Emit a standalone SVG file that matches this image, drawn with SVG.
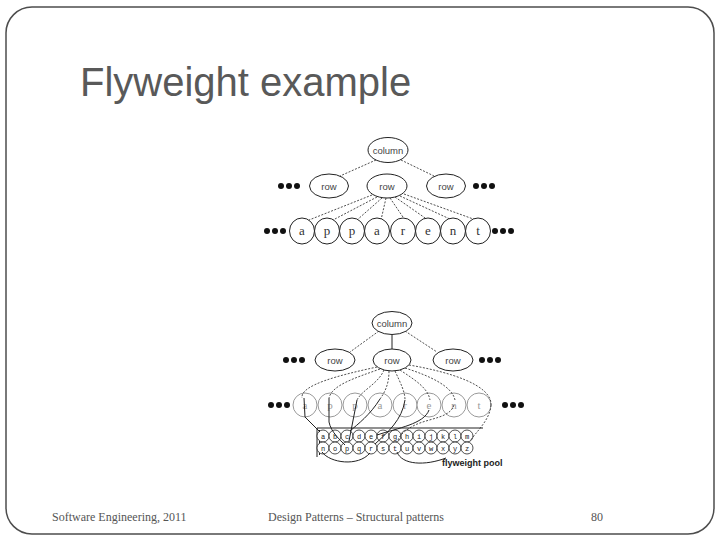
<svg xmlns="http://www.w3.org/2000/svg" width="720" height="540" viewBox="0 0 720 540">
<style>
.frame{fill:#ffffff;stroke:#4d4d4d;stroke-width:1.5}
.title{font-family:"Liberation Sans",Arial,sans-serif;font-size:40px;fill:#595959}
.foot{font-family:"Liberation Serif","Times New Roman",serif;font-size:12px;fill:#555555}
.node{fill:#ffffff;stroke:#222222;stroke-width:1}
.gnode{fill:#ffffff;stroke:#9a9a9a;stroke-width:1}
.lbl{font-family:"Liberation Sans",Arial,sans-serif;font-size:9.5px;fill:#444444;text-anchor:middle}
.let{font-family:"Liberation Serif","Times New Roman",serif;font-size:13px;fill:#333333;text-anchor:middle}
.glet{font-family:"Liberation Serif","Times New Roman",serif;font-size:11px;fill:#9a9a9a;text-anchor:middle}
.plet{font-family:"Liberation Mono","Courier New",monospace;font-size:7px;fill:#222222;text-anchor:middle}
.pc{fill:#ffffff;stroke:#222222;stroke-width:0.8}
.dash{fill:none;stroke:#222222;stroke-width:0.8;stroke-dasharray:2 1.5}
.solid{fill:none;stroke:#222222;stroke-width:1}
.dot{fill:#111111}
.pool{font-family:"Liberation Sans",Arial,sans-serif;font-size:9px;font-weight:bold;fill:#222222}
</style>
<rect class="frame" x="6" y="7" width="708" height="527" rx="26" ry="26"/>
<text class="title" x="80" y="96">Flyweight example</text>

<!-- Top diagram -->
<g id="top-connectors">
<path class="dash" d="M376,160 L340,176"/>
<path class="dash" d="M401,160 L434,176"/>
<path class="dash" d="M372,195 L309,220"/>
<path class="dash" d="M377,197 L333,220"/>
<path class="dash" d="M382,198 L357,220"/>
<path class="dash" d="M386,198 L381,220"/>
<path class="dash" d="M390,198 L405,220"/>
<path class="dash" d="M395,197 L428,220"/>
<path class="dash" d="M400,196 L452,220"/>
<path class="dash" d="M404,194 L476,220"/>
</g>
<g id="top-column"><ellipse class="node" cx="388" cy="150" rx="20" ry="12.5"/><text class="lbl" x="388" y="153.5">column</text></g>
<g id="top-row-left"><ellipse class="node" cx="329" cy="186" rx="19.5" ry="12"/><text class="lbl" x="329" y="189.5">row</text></g>
<g id="top-row-mid"><ellipse class="node" cx="387" cy="186" rx="20" ry="12"/><text class="lbl" x="387" y="189.5">row</text></g>
<g id="top-row-right"><ellipse class="node" cx="446" cy="186" rx="19.5" ry="12"/><text class="lbl" x="446" y="189.5">row</text></g>
<g id="top-dots-left"><circle class="dot" cx="281" cy="186" r="3"/><circle class="dot" cx="289" cy="186" r="3"/><circle class="dot" cx="297" cy="186" r="3"/></g>
<g id="top-dots-right"><circle class="dot" cx="476" cy="186" r="3"/><circle class="dot" cx="484" cy="186" r="3"/><circle class="dot" cx="492" cy="186" r="3"/></g>
<g id="top-letters">
<ellipse class="node" cx="302" cy="231" rx="12.5" ry="13"/><text class="let" x="302" y="235">a</text>
<ellipse class="node" cx="327" cy="231" rx="12.5" ry="13"/><text class="let" x="327" y="235">p</text>
<ellipse class="node" cx="352" cy="231" rx="12.5" ry="13"/><text class="let" x="352" y="235">p</text>
<ellipse class="node" cx="377" cy="231" rx="12.5" ry="13"/><text class="let" x="377" y="235">a</text>
<ellipse class="node" cx="403" cy="231" rx="12.5" ry="13"/><text class="let" x="403" y="235">r</text>
<ellipse class="node" cx="428" cy="231" rx="12.5" ry="13"/><text class="let" x="428" y="235">e</text>
<ellipse class="node" cx="453" cy="231" rx="12.5" ry="13"/><text class="let" x="453" y="235">n</text>
<ellipse class="node" cx="478" cy="231" rx="12.5" ry="13"/><text class="let" x="478" y="235">t</text>
</g>
<g id="top-dots-letters-left"><circle class="dot" cx="267" cy="231" r="3"/><circle class="dot" cx="275" cy="231" r="3"/><circle class="dot" cx="283" cy="231" r="3"/></g>
<g id="top-dots-letters-right"><circle class="dot" cx="495" cy="231" r="3"/><circle class="dot" cx="503" cy="231" r="3"/><circle class="dot" cx="511" cy="231" r="3"/></g>

<!-- Bottom diagram -->
<g id="bot-letters">
<circle class="gnode" cx="305" cy="405" r="12"/><text class="glet" x="305" y="409">a</text>
<circle class="gnode" cx="330" cy="405" r="12"/><text class="glet" x="330" y="409">p</text>
<circle class="gnode" cx="355" cy="405" r="12"/><text class="glet" x="355" y="409">p</text>
<circle class="gnode" cx="380" cy="405" r="12"/><text class="glet" x="380" y="409">a</text>
<circle class="gnode" cx="405" cy="405" r="12"/><text class="glet" x="405" y="409">r</text>
<circle class="gnode" cx="429" cy="405" r="12"/><text class="glet" x="429" y="409">e</text>
<circle class="gnode" cx="454" cy="405" r="12"/><text class="glet" x="454" y="409">n</text>
<circle class="gnode" cx="479" cy="405" r="12"/><text class="glet" x="479" y="409">t</text>
</g>
<g id="flyweight-pool">
<path class="solid" d="M317,428 L483,428 M317,428 L317,457 M319.5,430 L319.5,455"/>
<circle class="pc" cx="323" cy="436" r="6"/><text class="plet" x="323" y="438.5">a</text>
<circle class="pc" cx="335" cy="436" r="6"/><text class="plet" x="335" y="438.5">b</text>
<circle class="pc" cx="347" cy="436" r="6"/><text class="plet" x="347" y="438.5">c</text>
<circle class="pc" cx="359" cy="436" r="6"/><text class="plet" x="359" y="438.5">d</text>
<circle class="pc" cx="371" cy="436" r="6"/><text class="plet" x="371" y="438.5">e</text>
<circle class="pc" cx="383" cy="436" r="6"/><text class="plet" x="383" y="438.5">f</text>
<circle class="pc" cx="395" cy="436" r="6"/><text class="plet" x="395" y="438.5">g</text>
<circle class="pc" cx="407" cy="436" r="6"/><text class="plet" x="407" y="438.5">h</text>
<circle class="pc" cx="419" cy="436" r="6"/><text class="plet" x="419" y="438.5">i</text>
<circle class="pc" cx="431" cy="436" r="6"/><text class="plet" x="431" y="438.5">j</text>
<circle class="pc" cx="443" cy="436" r="6"/><text class="plet" x="443" y="438.5">k</text>
<circle class="pc" cx="455" cy="436" r="6"/><text class="plet" x="455" y="438.5">l</text>
<circle class="pc" cx="467" cy="436" r="6"/><text class="plet" x="467" y="438.5">m</text>
<circle class="pc" cx="323" cy="448" r="6"/><text class="plet" x="323" y="450.5">n</text>
<circle class="pc" cx="335" cy="448" r="6"/><text class="plet" x="335" y="450.5">o</text>
<circle class="pc" cx="347" cy="448" r="6"/><text class="plet" x="347" y="450.5">p</text>
<circle class="pc" cx="359" cy="448" r="6"/><text class="plet" x="359" y="450.5">q</text>
<circle class="pc" cx="371" cy="448" r="6"/><text class="plet" x="371" y="450.5">r</text>
<circle class="pc" cx="383" cy="448" r="6"/><text class="plet" x="383" y="450.5">s</text>
<circle class="pc" cx="395" cy="448" r="6"/><text class="plet" x="395" y="450.5">t</text>
<circle class="pc" cx="407" cy="448" r="6"/><text class="plet" x="407" y="450.5">u</text>
<circle class="pc" cx="419" cy="448" r="6"/><text class="plet" x="419" y="450.5">v</text>
<circle class="pc" cx="431" cy="448" r="6"/><text class="plet" x="431" y="450.5">w</text>
<circle class="pc" cx="443" cy="448" r="6"/><text class="plet" x="443" y="450.5">x</text>
<circle class="pc" cx="455" cy="448" r="6"/><text class="plet" x="455" y="450.5">y</text>
<circle class="pc" cx="467" cy="448" r="6"/><text class="plet" x="467" y="450.5">z</text>
<text class="pool" x="442" y="466">flyweight pool</text>
</g>
<g id="bottom-connectors">
<path class="solid" d="M392,335 L392,349"/>
<path class="dash" d="M379,331 L350,352"/>
<path class="dash" d="M405,331 L437,352"/>
<path class="dash" d="M377,367 C340,375 300,385 302,398"/>
<path class="solid" d="M304,398 L305,417 L320,432"/>
<path class="dash" d="M380,369 C355,378 332,385 329,398"/>
<path class="solid" d="M329,398 L329,422 C331,432 340,440 345,445"/>
<path class="dash" d="M384,370 C378,384 362,390 357,400"/>
<path class="solid" d="M357,400 L349,441"/>
<path class="dash" d="M389,371 C389,384 385,392 380,399"/>
<path class="solid" d="M380,399 C370,415 358,424 350,431"/>
<path class="dash" d="M395,371 C401,384 405,392 405,400"/>
<path class="solid" d="M405,400 C402,420 388,432 375,444"/>
<path class="dash" d="M400,370 C415,380 428,388 430,400"/>
<path class="solid" d="M429,410 C424,424 398,428 377,435"/>
<path class="dash" d="M405,368 C430,376 452,386 455,400"/>
<path class="dash" d="M454,405 C450,418 430,418 415,425 C405,430 400,435 398,440"/>
<path class="dash" d="M409,365 C450,372 492,385 491,405"/>
<path class="dash" d="M491,405 C490,420 476,432 470,441"/>
<path class="solid" d="M322,452 C330,463 358,467 370,453"/>
<path class="solid" d="M397,452 C402,465 425,466 446,458"/>
</g>
<g id="bot-column"><ellipse class="node" cx="392" cy="323" rx="20" ry="11.5"/><text class="lbl" x="392" y="326.5">column</text></g>
<g id="bot-row-left"><ellipse class="node" cx="335" cy="360" rx="20" ry="11"/><text class="lbl" x="335" y="363.5">row</text></g>
<g id="bot-row-mid"><ellipse class="node" cx="392" cy="360" rx="19" ry="11"/><text class="lbl" x="392" y="363.5">row</text></g>
<g id="bot-row-right"><ellipse class="node" cx="453" cy="360" rx="20" ry="11"/><text class="lbl" x="453" y="363.5">row</text></g>
<g id="bot-dots-left"><circle class="dot" cx="286" cy="360" r="3"/><circle class="dot" cx="294" cy="360" r="3"/><circle class="dot" cx="302" cy="360" r="3"/></g>
<g id="bot-dots-right"><circle class="dot" cx="482" cy="360" r="3"/><circle class="dot" cx="490" cy="360" r="3"/><circle class="dot" cx="498" cy="360" r="3"/></g>
<g id="bot-dots-letters-left"><circle class="dot" cx="271" cy="405" r="3"/><circle class="dot" cx="279" cy="405" r="3"/><circle class="dot" cx="287" cy="405" r="3"/></g>
<g id="bot-dots-letters-right"><circle class="dot" cx="505" cy="405" r="3"/><circle class="dot" cx="513" cy="405" r="3"/><circle class="dot" cx="521" cy="405" r="3"/></g>

<text class="foot" x="52" y="521">Software Engineering, 2011</text>
<text class="foot" x="268" y="521">Design Patterns – Structural patterns</text>
<text class="foot" x="591" y="521">80</text>
</svg>
